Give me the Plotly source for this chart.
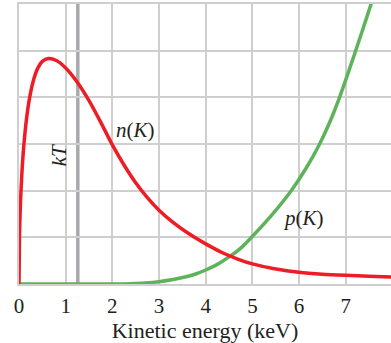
import plotly.graph_objects as go

# n(K): energy distribution
n_K = [0, 0.01, 0.03, 0.06, 0.1, 0.16, 0.22, 0.3, 0.4, 0.5, 0.63, 0.8, 1.0, 1.23, 1.5, 1.75, 2.0, 2.25, 2.5, 2.75,
       3.0, 3.3, 3.65, 4.0, 4.36, 4.7, 5.0, 5.5, 6.0, 6.5, 7.0, 7.5, 8.0]
n_val = [0, 1.0, 1.7, 2.34, 2.93, 3.53, 3.95, 4.33, 4.62, 4.77, 4.83, 4.79, 4.63, 4.35, 3.93, 3.47, 2.98, 2.55, 2.17, 1.85,
         1.58, 1.32, 1.07, 0.86, 0.67, 0.53, 0.43, 0.32, 0.25, 0.21, 0.185, 0.165, 0.15]

# p(K): tunneling probability
p_K = [0, 1.0, 2.0, 2.4, 2.7, 3.0, 3.3, 3.6, 3.8, 4.0, 4.25, 4.5, 4.75, 4.98, 5.4, 5.84, 6.15, 6.43, 6.65, 6.86,
       7.03, 7.2, 7.37, 7.54, 7.7]
p_val = [0, 0, 0, 0.008, 0.022, 0.05, 0.095, 0.16, 0.22, 0.3, 0.42, 0.58, 0.77, 1.0, 1.46, 2.01, 2.48, 2.98, 3.45, 3.98,
         4.46, 4.96, 5.47, 5.99, 6.48]

kT = 1.26
x_ticks = [0, 1, 2, 3, 4, 5, 6, 7]
x_title = "Kinetic energy (keV)"

SERIF = "Liberation Serif"
INK = "#231f20"
GRID = "#cfcfcf"

fig = go.Figure()
fig.add_vline(x=kT, line=dict(color="#a7a9ac", width=3.5), layer="below")
fig.add_trace(go.Scatter(x=p_K, y=p_val, mode="lines",
                         line=dict(color="#5db35a", width=3.5, shape="spline", smoothing=1.0),
                         hoverinfo="skip"))
fig.add_trace(go.Scatter(x=n_K, y=n_val, mode="lines",
                         line=dict(color="#ee1c25", width=3.5, shape="spline", smoothing=0.7),
                         hoverinfo="skip"))

ann_font = dict(family=SERIF, size=21, color=INK)
fig.add_annotation(x=2.5, y=3.30, text="<i>n</i>(<i>K</i>)", showarrow=False, font=ann_font)
fig.add_annotation(x=6.1, y=1.41, text="<i>p</i>(<i>K</i>)", showarrow=False, font=ann_font)
fig.add_annotation(x=0.86, y=2.76, text="<i>kT</i>", showarrow=False, font=ann_font, textangle=-90)

fig.update_layout(
    width=391, height=343,
    margin=dict(l=19, r=0, t=4, b=59),
    paper_bgcolor="white", plot_bgcolor="white",
    showlegend=False,
    xaxis=dict(range=[0, 7.97], tickvals=x_ticks, ticktext=[str(t) for t in x_ticks],
               showgrid=True, gridcolor=GRID, gridwidth=1.5, zeroline=False,
               showline=True, mirror=True, linecolor=GRID, linewidth=1.5,
               ticks="outside", ticklen=2, tickcolor="rgba(0,0,0,0)",
               tickfont=dict(family=SERIF, size=21, color=INK),
               title=dict(text=x_title, font=dict(family=SERIF, size=22, color=INK), standoff=3),
               automargin=False, fixedrange=True),
    yaxis=dict(range=[0, 6], dtick=1, showgrid=True, gridcolor=GRID, gridwidth=1.5, zeroline=False,
               showline=True, mirror=False, linecolor=GRID, linewidth=1.5,
               showticklabels=False, fixedrange=True),
)

fig.write_html("out.html", config={"displayModeBar": False},
               post_script="document.body.style.margin='0';document.body.style.overflow='hidden';")
